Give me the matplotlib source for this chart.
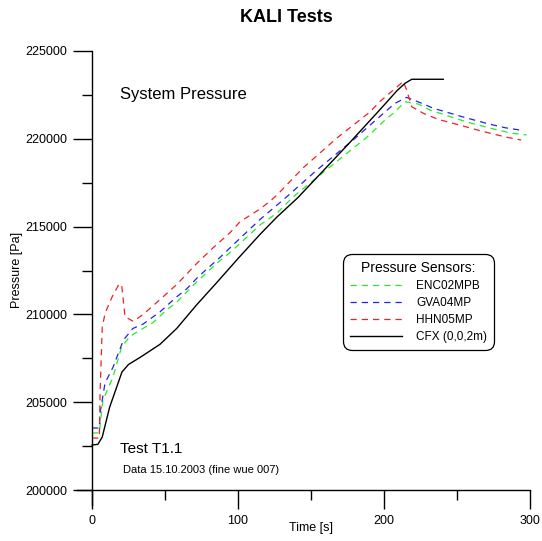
"""
KALI Tests - system pressure, sensors vs CFX
"""
import numpy as np
import matplotlib
matplotlib.use('Agg')
import matplotlib.pyplot as plt
from matplotlib.ticker import MultipleLocator

plt.rcParams['font.family'] = ['Liberation Sans', 'DejaVu Sans']

# Sensor ENC02MPB
t_enc = [0, 5, 5.5, 7.5, 14.4, 20.3, 26, 32.9, 42, 51, 58, 71.7, 85.3, 92, 100.2, 115,
         126.7, 137.7, 163, 188.4, 200.7, 207.5, 214.4, 223.5, 231.5, 241.8, 251, 260, 269,
         278, 287.4, 297.7]
p_enc = [203250, 203250, 203700, 205120, 206440, 208160, 208750, 209100, 209550, 210250,
         210700, 211850, 212900, 213350, 213950, 215090, 215770, 216690, 218400, 220100,
         221070, 221540, 222110, 221980, 221640, 221360, 221110, 220880, 220690, 220500,
         220320, 220220]

# Sensor GVA04MP
t_gva = [0, 5, 5.5, 8.9, 14.4, 21.5, 28, 35, 46.6, 58, 64.8, 72.8, 87.7, 100.2, 115, 132,
         154, 178.8, 198.4, 207.5, 215.5, 224.7, 233.8, 244, 253, 263.5, 272.6, 283, 293]
p_gva = [203530, 203530, 204380, 206090, 207000, 208540, 209200, 209450, 210150, 211000,
         211450, 212150, 213250, 214240, 215400, 216600, 218220, 219930, 221360, 222020,
         222360, 222060, 221740, 221490, 221270, 221030, 220830, 220630, 220500]

# Sensor HHN05MP
t_hhn = [0, 5, 5.5, 7, 9, 13.7, 18.5, 20.3, 22.6, 28.3, 35, 46.6, 58, 71.7, 83, 94.5,
         101.4, 115, 122, 126.7, 144.5, 167.8, 190.4, 197, 206.4, 213.2, 215.5, 219, 227,
         237, 254, 265.8, 275, 284, 294]
p_hhn = [202960, 202960, 205500, 209280, 210080, 210990, 211730, 211670, 209870, 209600,
         210000, 210850, 211700, 212900, 213800, 214650, 215280, 216000, 216450, 216800,
         218340, 220050, 221530, 222110, 222780, 223260, 222780, 221830, 221450, 221110,
         220730, 220460, 220270, 220090, 219930]

# CFX simulation at (0,0,2m)
t_cfx = [0, 4, 7, 12, 20.5, 25, 32.9, 46.6, 58, 71.7, 85.3, 100.2, 115, 126.7, 141,
         176.7, 197, 209, 214.4, 219, 240.6]
p_cfx = [202560, 202600, 203020, 204700, 206720, 207150, 207550, 208300, 209200, 210550,
         211800, 213200, 214550, 215550, 216650, 219800, 221640, 222750, 223160, 223390,
         223390]

fig = plt.figure(figsize=(5.42, 5.41), dpi=100)
ax = fig.add_axes([77/542, 1 - 505/541, 453/542, 454/541])

dash = (5, 4)
ax.plot(t_enc, p_enc, color='#22ee22', lw=0.9, dashes=dash, label='ENC02MPB')
ax.plot(t_gva, p_gva, color='#2222ee', lw=0.9, dashes=dash, label='GVA04MP')
ax.plot(t_hhn, p_hhn, color='#ee2222', lw=0.9, dashes=dash, label='HHN05MP')
ax.plot(t_cfx, p_cfx, color='black', lw=1.0, label='CFX (0,0,2m)')

ax.set_xlim(-10.3, 300)
ax.set_ylim(199146, 225000)

# axes cross at (0, 200000), Grapher style
ax.spines['left'].set_position(('data', 0))
ax.spines['bottom'].set_position(('data', 200000))
ax.spines['top'].set_visible(False)
ax.spines['right'].set_visible(False)
for s in ('left', 'bottom'):
    ax.spines[s].set_linewidth(1.0)

ax.xaxis.set_major_locator(MultipleLocator(100))
ax.xaxis.set_minor_locator(MultipleLocator(50))
ax.yaxis.set_major_locator(MultipleLocator(5000))
ax.yaxis.set_minor_locator(MultipleLocator(2500))
ax.tick_params(which='major', direction='out', length=14, width=1.0, labelsize=9, pad=4)
ax.tick_params(which='minor', direction='out', length=7, width=1.0)
ax.set_xticks([0, 100, 200, 300])
ax.set_xticklabels(['0', '100', '200', '300'])
ax.set_yticks(np.arange(200000, 225001, 5000))
ax.set_yticklabels([str(v) for v in range(200000, 225001, 5000)])

fig.text(286/542, 1 - 18/541, 'KALI Tests', ha='center', va='center',
         fontsize=13, fontweight='bold')
fig.text(311/542, 1 - 528/541, 'Time [s]', ha='center', va='center', fontsize=9)
fig.text(17/542, 1 - 270/541, 'Pressure [Pa]', ha='center', va='center',
         rotation=90, fontsize=9)
fig.text(120/542, 1 - 95/541, 'System Pressure', ha='left', va='center', fontsize=12)
fig.text(120/542, 1 - 449/541, 'Test T1.1', ha='left', va='center', fontsize=11)
fig.text(123/542, 1 - 470/541, 'Data 15.10.2003 (fine wue 007)', ha='left',
         va='center', fontsize=8)

leg = ax.legend(title='Pressure Sensors:', loc='upper left',
                bbox_to_anchor=(343/542, 1 - 254/541), bbox_transform=fig.transFigure,
                fontsize=8.5, title_fontsize=10, frameon=True, fancybox=True,
                edgecolor='black', framealpha=1, handlelength=4.4, handletextpad=1.2,
                labelspacing=0.42, borderpad=0.6, borderaxespad=0)
leg.get_frame().set_linewidth(0.9)
leg.get_frame().set_boxstyle('round', pad=0.0, rounding_size=0.8)
leg._legend_box.align = 'center'

fig.savefig('out.png', dpi=100)
